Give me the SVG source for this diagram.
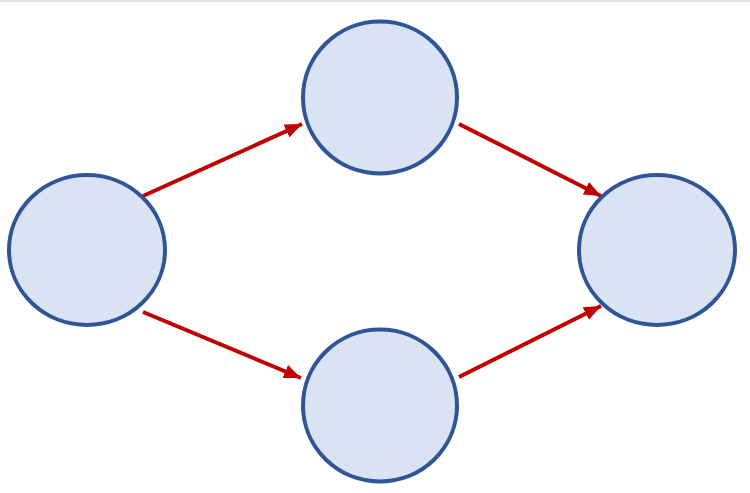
<svg xmlns="http://www.w3.org/2000/svg" width="750" height="493" viewBox="0 0 750 493">
<defs>
<style>
.node{fill:#DAE3F3;stroke:#2F5597;stroke-width:4}
.edge{stroke:#C00000;stroke-width:4;fill:none;marker-end:url(#ah)}
</style>
<marker id="ah" markerUnits="userSpaceOnUse" markerWidth="18" markerHeight="14" refX="17" refY="7" orient="auto">
<path d="M0,0 L17,7 L0,14 Z" fill="#C00000"/>
</marker>
</defs>
<rect x="0" y="0" width="750" height="493" fill="#fff"/>
<rect x="0" y="0" width="750" height="2" fill="#E0E0E0"/>
<g id="connectors">
<line class="edge" x1="143" y1="196" x2="302" y2="124"/>
<line class="edge" x1="143" y1="312" x2="301" y2="378"/>
<line class="edge" x1="459" y1="124" x2="601" y2="196"/>
<line class="edge" x1="459" y1="377" x2="601" y2="306"/>
</g>
<g id="left"><ellipse class="node" cx="87" cy="250" rx="78" ry="75"/></g>
<g id="top"><ellipse class="node" cx="380" cy="97.5" rx="77" ry="76"/></g>
<g id="right"><ellipse class="node" cx="657" cy="250" rx="78" ry="75"/></g>
<g id="bottom"><ellipse class="node" cx="380" cy="405.5" rx="77" ry="76"/></g>
</svg>
